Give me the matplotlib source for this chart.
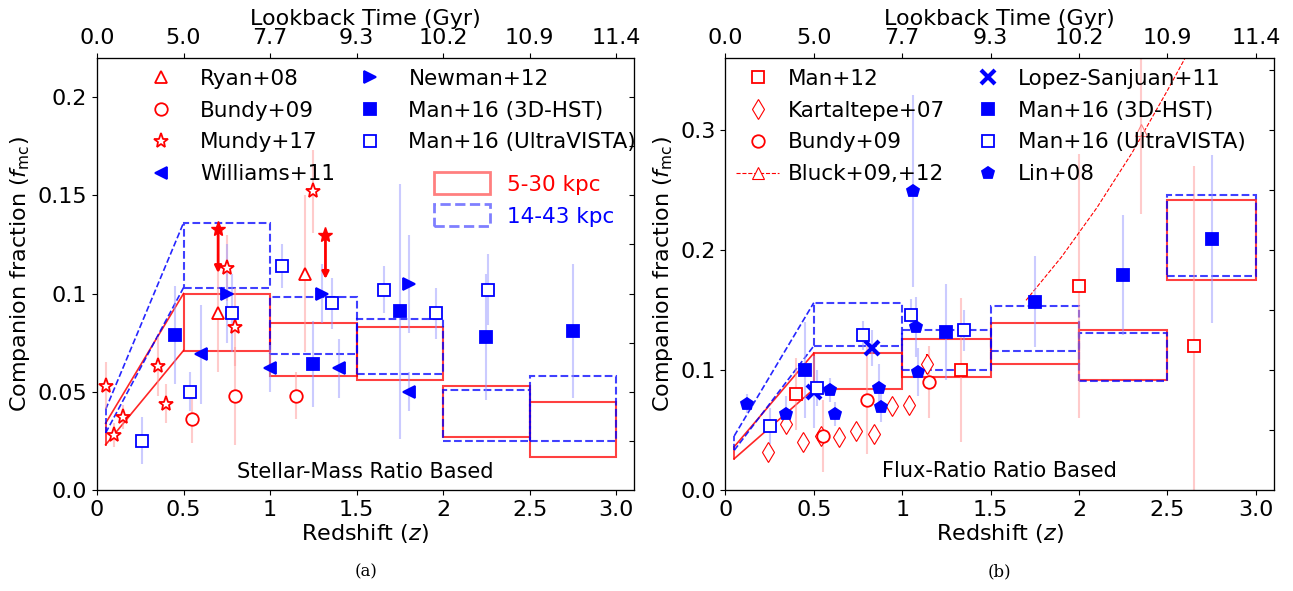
import matplotlib
matplotlib.use('Agg')
import matplotlib.pyplot as plt
import matplotlib.patches as patches
import numpy as np

plt.rcParams['font.size'] = 16
plt.rcParams['mathtext.fontset'] = 'dejavusans'

z_ticks = [0, 0.5, 1, 1.5, 2, 2.5, 3]
lookback_labels = ['0.0', '5.0', '7.7', '9.3', '10.2', '10.9', '11.4']
bins = [(0.5, 1), (1, 1.5), (1.5, 2), (2, 2.5), (2.5, 3)]

# ---- panel (a): stellar-mass ratio ----
a_red_lo = [0.071, 0.058, 0.056, 0.027, 0.017]
a_red_hi = [0.100, 0.085, 0.083, 0.053, 0.045]
a_red_low_z = [0.023, 0.034]
a_blue_lo = [0.103, 0.069, 0.059, 0.025, 0.025]
a_blue_hi = [0.136, 0.098, 0.087, 0.051, 0.058]
a_blue_low_z = [0.029, 0.041]

ryan_z = [0.7, 1.2]; ryan_f = [0.09, 0.11]; ryan_e = [0.03, 0.04]
bundy_a_z = [0.55, 0.8, 1.15]; bundy_a_f = [0.036, 0.048, 0.048]; bundy_a_e = [0.012, 0.025, 0.012]
mundy_z = [0.05, 0.1, 0.15, 0.35, 0.4, 0.75, 0.8, 1.25]
mundy_f = [0.053, 0.028, 0.037, 0.063, 0.044, 0.113, 0.083, 0.152]
mundy_e = [0.012, 0.006, 0.006, 0.015, 0.010, 0.017, 0.020, 0.021]
mundy_ul_z = [0.7, 1.32]; mundy_ul_f = [0.133, 0.130]
williams_z = [0.6, 1.0, 1.4, 1.8]; williams_f = [0.069, 0.062, 0.062, 0.050]
williams_e = [0.025, 0.012, 0.015, 0.010]
newman_z = [0.75, 1.3, 1.8]; newman_f = [0.100, 0.100, 0.105]; newman_e = [0.025, 0.015, 0.025]
hst_a_z = [0.45, 1.25, 1.75, 2.25, 2.75]; hst_a_f = [0.079, 0.064, 0.091, 0.078, 0.081]
hst_a_e = [0.025, 0.022, 0.065, 0.032, 0.034]
uv_a_z = [0.26, 0.54, 0.78, 1.07, 1.36, 1.66, 1.96, 2.26]
uv_a_f = [0.025, 0.050, 0.090, 0.114, 0.095, 0.102, 0.090, 0.102]
uv_a_e = [0.012, 0.010, 0.020, 0.011, 0.013, 0.012, 0.013, 0.018]

# ---- panel (b): flux ratio ----
b_red_lo = [0.084, 0.094, 0.105, 0.092, 0.175]
b_red_hi = [0.114, 0.126, 0.139, 0.133, 0.242]
b_red_low_z = [0.026, 0.036]
b_blue_lo = [0.120, 0.100, 0.116, 0.091, 0.178]
b_blue_hi = [0.156, 0.133, 0.153, 0.131, 0.246]
b_blue_low_z = [0.033, 0.045]

man12_z = [0.40, 1.33, 2.0, 2.65]; man12_f = [0.080, 0.100, 0.170, 0.120]; man12_e = [0.03, 0.06, 0.11, 0.15]
kart_z = [0.24, 0.34, 0.44, 0.54, 0.64, 0.74, 0.84, 0.94, 1.04, 1.14]
kart_f = [0.032, 0.055, 0.040, 0.045, 0.044, 0.049, 0.047, 0.070, 0.071, 0.105]
kart_e = [0.005, 0.006, 0.006, 0.006, 0.006, 0.005, 0.005, 0.006, 0.006, 0.008]
bundy_b_z = [0.55, 0.8, 1.15]; bundy_b_f = [0.045, 0.075, 0.090]; bundy_b_e = [0.03, 0.045, 0.03]
bluck_curve_z = [1.7, 1.9, 2.1, 2.3, 2.5, 2.6]
bluck_curve_f = [0.158, 0.194, 0.235, 0.281, 0.333, 0.360]
bluck_z = [2.35]; bluck_f = [0.30]; bluck_e = [0.07]
lopez_z = [0.5, 0.83]; lopez_f = [0.082, 0.118]; lopez_e = [0.03, 0.015]
uv_b_z = [0.25, 0.52, 0.78, 1.05, 1.35]; uv_b_f = [0.053, 0.085, 0.129, 0.146, 0.133]
uv_b_e = [0.015, 0.015, 0.012, 0.013, 0.017]
hst_b_z = [0.45, 1.25, 1.75, 2.25, 2.75]; hst_b_f = [0.100, 0.132, 0.157, 0.179, 0.209]
hst_b_e = [0.04, 0.04, 0.038, 0.05, 0.07]
lin_z = [0.12, 0.34, 0.59, 0.62, 0.87, 0.88, 1.06, 1.08, 1.09]
lin_f = [0.072, 0.063, 0.083, 0.063, 0.085, 0.069, 0.249, 0.136, 0.098]
lin_e = [0.008, 0.015, 0.01, 0.01, 0.02, 0.012, 0.08, 0.025, 0.02]

RED = '#ff0000'
BLUE = '#0000ff'
LRED = (1, 0.6, 0.6, 0.5)
LBLUE = (0.6, 0.6, 1, 0.5)


def draw_boxes(ax, lo, hi, low_z, color, ls):
    for (x0, x1), l, h in zip(bins, lo, hi):
        ax.add_patch(patches.Rectangle((x0, l), x1 - x0, h - l, fill=False,
                                       edgecolor=color, linestyle=ls, linewidth=1.5, alpha=0.75))
    ax.plot([0.05, 0.5], [low_z[0], lo[0]], color=color, ls=ls, lw=1.2, alpha=0.85)
    ax.plot([0.05, 0.5], [low_z[1], hi[0]], color=color, ls=ls, lw=1.2, alpha=0.85)
    ax.plot([0.05, 0.05], low_z, color=color, ls=ls, lw=1.2, alpha=0.85)


def pts(ax, z, f, e, marker, color, filled, ecol, size=9, label=None, mew=1.3):
    ax.errorbar(z, f, yerr=e, fmt='none', ecolor=ecol, elinewidth=1.5, zorder=2)
    ax.plot(z, f, ls='none', marker=marker, ms=size, mec=color,
            mfc=color if filled else 'white', mew=mew, label=label, zorder=4)


def setup(ax, ymax, yticks, ylabels, rticks):
    ax.set_xlim(0, 3.1)
    ax.set_ylim(0, ymax)
    ax.set_xticks(z_ticks)
    ax.set_xticklabels(['0', '0.5', '1', '1.5', '2', '2.5', '3.0'])
    ax.set_yticks(yticks)
    ax.set_yticklabels(ylabels)
    ax.set_xlabel('Redshift ($z$)', labelpad=2)
    ax.set_ylabel('Companion fraction ($f_{\\rm mc}$)')
    top = ax.twiny()
    top.set_xlim(0, 3.1)
    top.set_xticks(z_ticks)
    top.set_xticklabels(lookback_labels)
    top.set_xlabel('Lookback Time (Gyr)', labelpad=2)
    right = ax.twinx()
    right.set_ylim(0, ymax)
    right.set_yticks(rticks)
    right.tick_params(axis='y', direction='in', labelright=False)


fig = plt.figure(figsize=(12.93, 5.91), dpi=100)
ax1 = fig.add_axes([0.075, 0.171, 0.415, 0.731])
ax2 = fig.add_axes([0.561, 0.171, 0.424, 0.731])

# panel a
draw_boxes(ax1, a_red_lo, a_red_hi, a_red_low_z, RED, '-')
draw_boxes(ax1, a_blue_lo, a_blue_hi, a_blue_low_z, BLUE, '--')
pts(ax1, ryan_z, ryan_f, ryan_e, '^', RED, False, LRED, label='Ryan+08')
pts(ax1, bundy_a_z, bundy_a_f, bundy_a_e, 'o', RED, False, LRED, label='Bundy+09')
pts(ax1, mundy_z, mundy_f, mundy_e, '*', RED, False, LRED, size=11, label='Mundy+17')
pts(ax1, williams_z, williams_f, williams_e, '<', BLUE, True, LBLUE, label='Williams+11')
pts(ax1, newman_z, newman_f, newman_e, '>', BLUE, True, LBLUE, label='Newman+12')
pts(ax1, hst_a_z, hst_a_f, hst_a_e, 's', BLUE, True, LBLUE, label='Man+16 (3D-HST)')
pts(ax1, uv_a_z, uv_a_f, uv_a_e, 's', BLUE, False, LBLUE, label='Man+16 (UltraVISTA)')
for zz, ff in zip(mundy_ul_z, mundy_ul_f):
    ax1.annotate('', xy=(zz, ff - 0.024), xytext=(zz, ff),
                 arrowprops=dict(arrowstyle='-|>', color=RED, lw=2, mutation_scale=10))
ax1.plot(mundy_ul_z, mundy_ul_f, ls='none', marker='*', ms=11, color=RED, zorder=5)
setup(ax1, 0.22, [0, 0.05, 0.1, 0.15, 0.2], ['0.0', '0.05', '0.1', '0.15', '0.2'],
      np.arange(0.025, 0.22, 0.025))
leg1 = ax1.legend(loc='upper left', ncol=2, frameon=False, fontsize=15.5, handletextpad=0.8,
                  columnspacing=0.6, borderaxespad=0.1, labelspacing=0.55, bbox_to_anchor=(0.06, 1.0))
ax1.add_artist(leg1)
box_h = [patches.Rectangle((0, 0), 1, 1, fill=False, edgecolor=RED, lw=2, alpha=0.5),
         patches.Rectangle((0, 0), 1, 1, fill=False, edgecolor=BLUE, lw=2, ls='--', alpha=0.5)]
leg = ax1.legend(box_h, ['5-30 kpc', '14-43 kpc'], loc='upper right', frameon=False,
                 fontsize=15.5, handlelength=2.6, handleheight=1.2, labelspacing=0.45,
                 bbox_to_anchor=(1.0, 0.78))
for t, c in zip(leg.get_texts(), [RED, BLUE]):
    t.set_color(c)
ax1.text(1.55, 0.006, 'Stellar-Mass Ratio Based', ha='center', fontsize=15)

# panel b
draw_boxes(ax2, b_red_lo, b_red_hi, b_red_low_z, RED, '-')
draw_boxes(ax2, b_blue_lo, b_blue_hi, b_blue_low_z, BLUE, '--')
pts(ax2, man12_z, man12_f, man12_e, 's', RED, False, LRED, label='Man+12')
pts(ax2, kart_z, kart_f, kart_e, 'd', RED, False, RED, size=10, label='Kartaltepe+07', mew=0.8)
pts(ax2, bundy_b_z, bundy_b_f, bundy_b_e, 'o', RED, False, LRED, label='Bundy+09')
ax2.plot(bluck_curve_z, bluck_curve_f, color=RED, ls='--', lw=0.8)
ax2.errorbar(bluck_z, bluck_f, yerr=bluck_e, fmt='none', ecolor=LRED, elinewidth=1.5)
ax2.plot(bluck_z, bluck_f, ls='none', marker='^', ms=9, mec=(1, 0.5, 0.5), mfc='none', mew=0.8)
ax2.plot([], [], color=RED, ls='--', lw=0.8, marker='^', ms=9, mec=RED, mfc='white',
         mew=0.8, label='Bluck+09,+12')
pts(ax2, lopez_z, lopez_f, lopez_e, 'x', BLUE, True, LBLUE, size=10, label='Lopez-Sanjuan+11', mew=3)
pts(ax2, hst_b_z, hst_b_f, hst_b_e, 's', BLUE, True, LBLUE, label='Man+16 (3D-HST)')
pts(ax2, uv_b_z, uv_b_f, uv_b_e, 's', BLUE, False, LBLUE, label='Man+16 (UltraVISTA)')
pts(ax2, lin_z, lin_f, lin_e, 'p', BLUE, True, LBLUE, label='Lin+08')
setup(ax2, 0.36, [0, 0.1, 0.2, 0.3], ['0.0', '0.1', '0.2', '0.3'], np.arange(0.05, 0.36, 0.05))
ax2.legend(loc='upper left', ncol=2, frameon=False, fontsize=15.5, handletextpad=0.4,
           columnspacing=1.0, borderaxespad=0.1, labelspacing=0.55, bbox_to_anchor=(0.0, 1.0))
ax2.text(1.55, 0.011, 'Flux-Ratio Ratio Based', ha='center', fontsize=15)

fig.text(0.283, 0.025, '(a)', ha='center', family='serif', fontsize=12)
fig.text(0.773, 0.025, '(b)', ha='center', family='serif', fontsize=12)

fig.savefig('out.png', dpi=100)
